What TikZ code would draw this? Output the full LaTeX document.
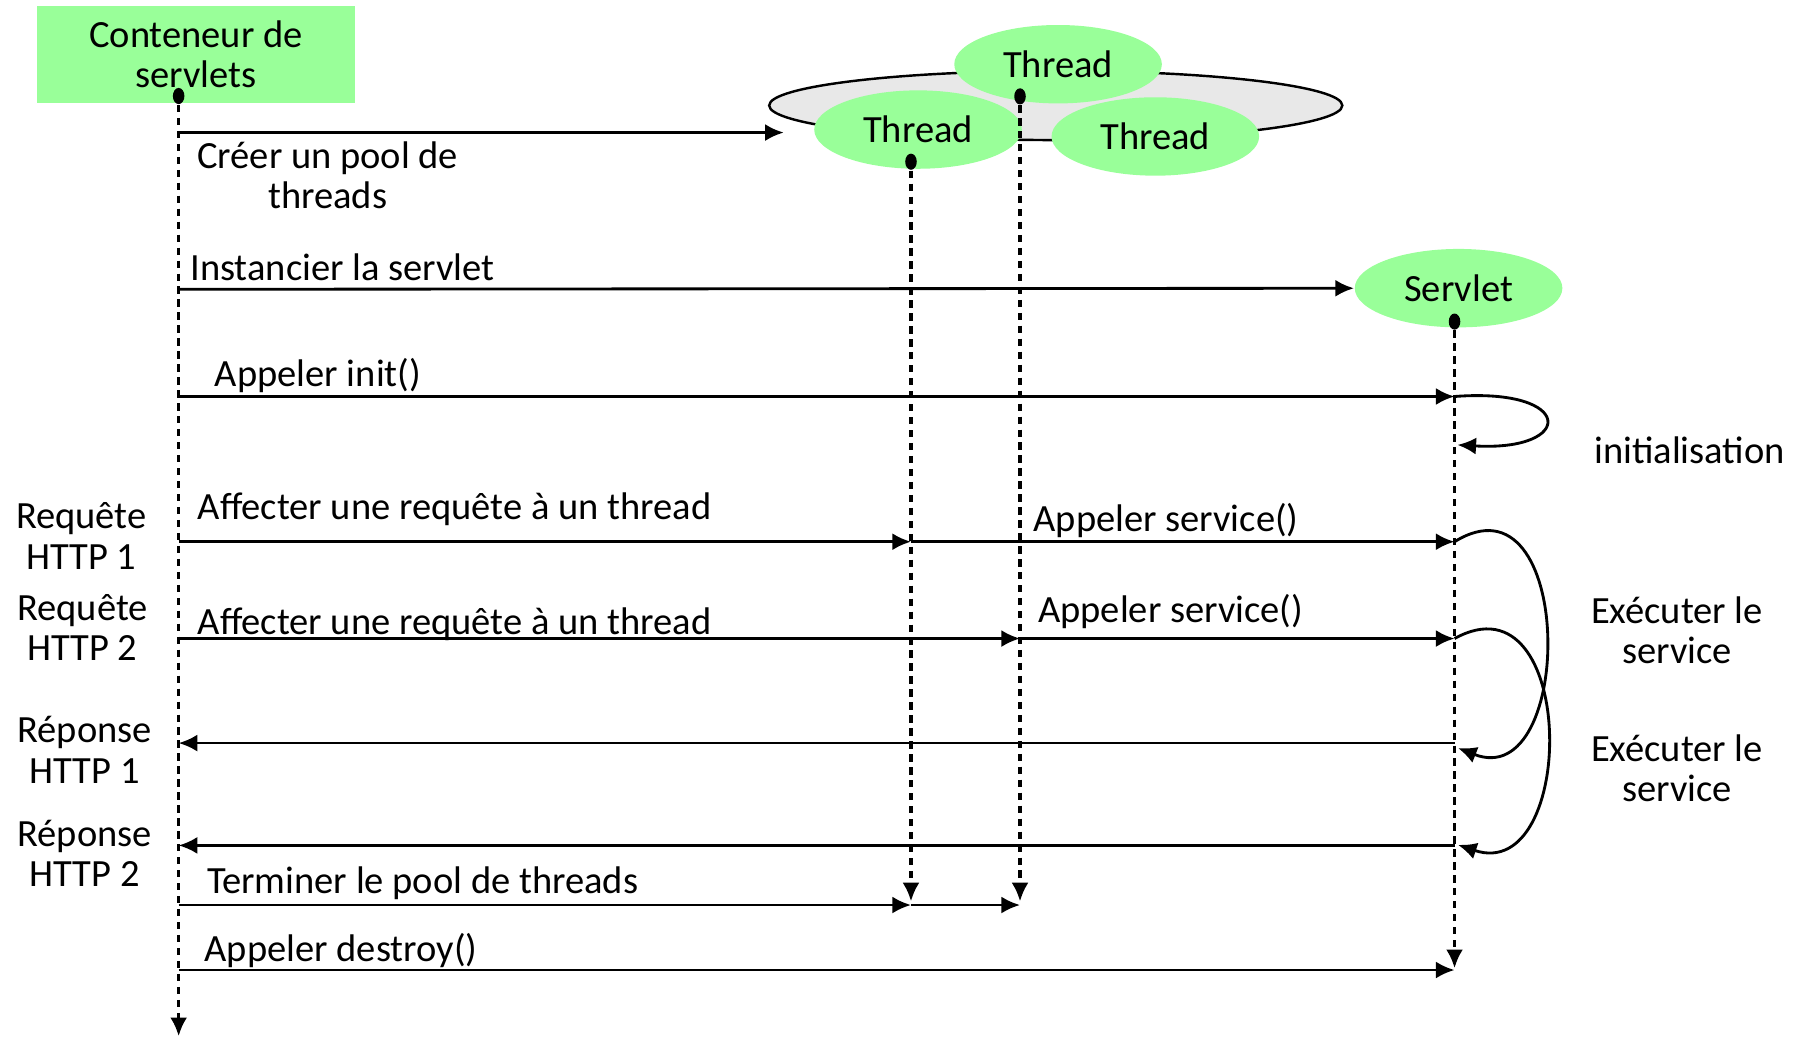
\documentclass[tikz,border=0pt]{standalone}
\usepackage{fontspec}
\setmainfont{Carlito}
\usepackage{xcolor}
\usetikzlibrary{positioning}
\usetikzlibrary{arrows.meta}
\usetikzlibrary{shapes.geometric}
\tikzset{edge/.style = {-{Latex[length=4.6pt,width=4.2pt]}}}
\definecolor{vert}{HTML}{99FF99}
\definecolor{gris}{HTML}{E8E8E8}

\begin{document}
\begin{tikzpicture}[x=0.01cm,y=-0.01cm,font=\fontsize{9.5}{10}\selectfont,
        box/.style={rectangle,fill=vert,minimum width=2.75cm,minimum height=0.84cm,align=center},
        fil/.style={ellipse,fill=vert,minimum width=1.8cm,minimum height=0.68cm,inner sep=0pt},
        dot/.style={ellipse,fill=black,inner sep=0pt,minimum width=0.1cm,minimum height=0.14cm},
        vie/.style={edge,dash pattern=on 1.8pt off 1.4pt,line width=0.8pt},
        msg/.style={edge,line width=0.7pt},
        lbl/.style={inner sep=0pt,align=center}]
                \useasboundingbox (0,0) rectangle (1560,902);

                % acteurs
                \node[box] (cont) at (170,47) {Conteneur de\\servlets};
                \node[ellipse,draw,fill=gris,line width=0.6pt,minimum width=4.97cm,minimum height=0.6cm] (pool) at (916,91.5) {};
                \node[fil] (t2) at (918,55.7) {Thread};
                \node[fil] (t1) at (796.5,112.4) {Thread};
                \node[fil] (t3) at (1002.4,118.4) {Thread};
                \node[fil] (srv) at (1265.5,250) {Servlet};

                \node[dot] (d0) at (155,83.3) {};
                \node[dot] (d1) at (790.4,140.3) {};
                \node[dot] (d2) at (885,83.6) {};
                \node[dot] (d3) at (1262,279) {};

                % lignes de vie
                \coordinate (e0) at (155,899);
                \coordinate (e1) at (790.4,782);
                \coordinate (e2) at (885,782);
                \coordinate (e3) at (1262,840);
                \path (d0) edge[vie] (e0)
                      (d1) edge[vie] (e1)
                      (d2) edge[vie] (e2)
                      (d3) edge[vie] (e3);

                % points des messages
                \coordinate (c1) at (155,115);
                \coordinate (p1) at (680,115);
                \coordinate (c2) at (155,251);
                \coordinate (c3) at (155,344);
                \coordinate (s3) at (1262,344);
                \coordinate (c4) at (155,470);
                \coordinate (a4) at (790.4,470);
                \coordinate (s4) at (1262,470);
                \coordinate (c5) at (155,554);
                \coordinate (b5) at (885,554);
                \coordinate (s5) at (1262,554);
                \coordinate (c6) at (155,644.7);
                \coordinate (s6) at (1262,644.7);
                \coordinate (c7) at (155,733.5);
                \coordinate (s7) at (1262,733.5);
                \coordinate (c8) at (155,785.2);
                \coordinate (a8) at (790.4,785.2);
                \coordinate (b8) at (885,785.2);
                \coordinate (c9) at (155,841.6);
                \coordinate (s9) at (1262,841.6);
                \coordinate (r3) at (1264.5,386);
                \coordinate (r6) at (1265,649);
                \coordinate (r7) at (1265,733);

                \path (c1) edge[msg] (p1)
                      (c2) edge[msg] (srv)
                      (c3) edge[msg] (s3)
                      (c4) edge[msg] (a4)
                      (a4) edge[msg] (s4)
                      (c5) edge[msg] (b5)
                      (b5) edge[msg] (s5)
                      (s6) edge[msg] (c6)
                      (s7) edge[msg] (c7)
                      (c8) edge[msg] (a8)
                      (a8) edge[msg] (b8)
                      (c9) edge[msg] (s9);

                % boucles
                \draw[msg] (s3) .. controls (1367,336) and (1367,392) .. (r3);
                \draw[msg] (s4) .. controls (1367,405) and (1367,689) .. (r6);
                \draw[msg] (s5) .. controls (1369,495) and (1369,768) .. (r7);

                % textes
                \node[lbl] (l1) at (284.3,152.2) {Créer un pool de\\threads};
                \node[lbl,anchor=west] (l2) at (164.5,231.8) {Instancier la servlet};
                \node[lbl,anchor=west] (l3) at (185.8,325.4) {Appeler init()};
                \node[lbl,anchor=west] (l4) at (171,441.8) {Affecter une requête à un thread};
                \node[lbl,anchor=west] (l5) at (896,451.7) {Appeler service()};
                \node[lbl,anchor=west] (l6) at (171,541.3) {Affecter une requête à un thread};
                \node[lbl,anchor=west] (l7) at (900,530.3) {Appeler service()};
                \node[lbl,anchor=west] (l8) at (178.9,766.2) {Terminer le pool de threads};
                \node[lbl,anchor=west] (l9) at (176.9,824.9) {Appeler destroy()};

                \node[lbl] (q1) at (70.5,465) {Requête\\HTTP 1};
                \node[lbl] (q2) at (71.5,544.3) {Requête\\HTTP 2};
                \node[lbl] (r1) at (73.4,650.7) {Réponse\\HTTP 1};
                \node[lbl] (r2) at (73.4,740.3) {Réponse\\HTTP 2};

                \node[lbl] (i1) at (1466,390.5) {initialisation};
                \node[lbl] (x1) at (1455,547) {Exécuter le\\service};
                \node[lbl] (x2) at (1455,666.7) {Exécuter le\\service};
            \end{tikzpicture}
\end{document}
